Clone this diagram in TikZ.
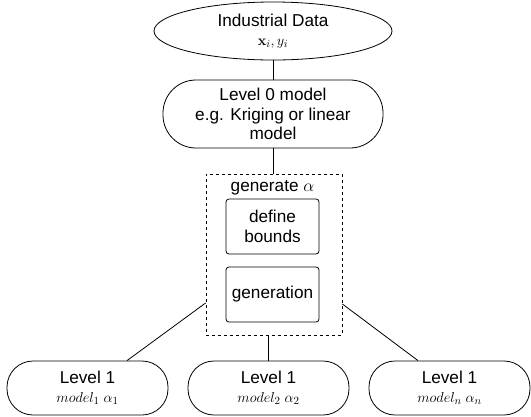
\documentclass[tikz,border=0pt]{standalone}
\usepackage[no-math]{fontspec}
\setmainfont{Liberation Sans}
\usetikzlibrary{shapes.geometric,calc}
\tikzset{
  base/.style={draw=black, line width=0.8pt, align=center, inner sep=0pt, font=\fontsize{17.2}{19.5}\selectfont},
  stadium/.style={base, rectangle, minimum width=161pt, minimum height=54pt, rounded corners=26pt},
  inner/.style={base, rectangle, minimum width=93pt, minimum height=55pt, rounded corners=3pt},
  conn/.style={line width=0.8pt, draw=black}
}
\newcommand{\mathsz}{\fontsize{15}{17}\selectfont}
\begin{document}
\begin{tikzpicture}[x=1pt,y=-1pt]
\useasboundingbox (0,0) rectangle (531,416);
\node[base, ellipse, minimum width=238pt, minimum height=58pt] (data) at (273,31)
  {Industrial Data\\[-1pt]{\mathsz$\mathbf{x}_i, y_i$}};
\node[base, rectangle, rounded corners=33pt, minimum width=220pt, minimum height=68pt] (lvl0) at (273,114)
  {Level 0 model\\e.g. Kriging or linear\\model};
\node[draw=black, line width=0.8pt, dash pattern=on 3pt off 3pt, minimum width=136pt, minimum height=161pt, inner sep=0pt] (gen) at (274,254.5) {};
\node[font=\fontsize{17.2}{19.5}\selectfont, inner sep=0pt] (gentitle) at (272.5,188) {generate $\alpha$};
\node[inner] (bounds) at (272.5,226.5) {define\\bounds};
\node[inner] (generation) at (272.5,294.5) {generation};
\node[stadium] (l1a) at (87.5,388) {Level 1\\[-1pt]{\mathsz$model_1\;\alpha_1$}};
\node[stadium] (l1b) at (268.5,388) {Level 1\\[-1pt]{\mathsz$model_2\;\alpha_2$}};
\node[stadium] (l1c) at (449.5,388) {Level 1\\[-1pt]{\mathsz$model_n\;\alpha_n$}};
\draw[conn] (data.south) -- (lvl0.north);
\draw[conn] (lvl0.south) -- (lvl0.south |- gen.north);
\draw[conn] (gen.south -| l1b.north) -- (l1b.north);
\draw[conn] ($(gen.west)+(0,48.5)$) -- ($(l1a.north)+(39.5,0)$);
\draw[conn] ($(gen.east)+(0,49.5)$) -- ($(l1c.north)+(-31.5,0)$);
\end{tikzpicture}
\end{document}
